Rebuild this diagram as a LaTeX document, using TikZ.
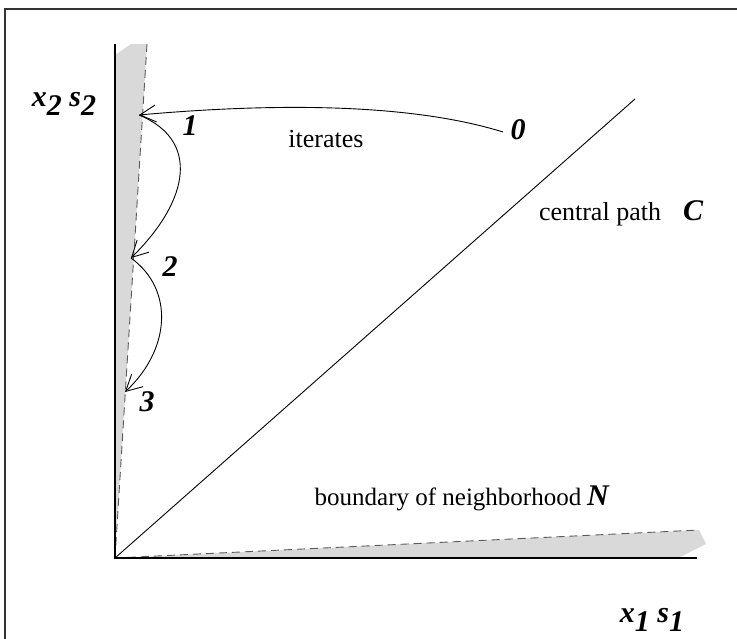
\documentclass[tikz,border=0pt]{standalone}
\usepackage{fontspec}
\setmainfont{Liberation Serif}
\usetikzlibrary{arrows.meta}
\definecolor{shadegray}{RGB}{217,217,217}
\definecolor{dashc}{RGB}{90,90,90}
\begin{document}
\begin{tikzpicture}[x=1pt,y=-1pt,
  axis/.style={line width=1.1pt,black},
  bound/.style={dash pattern=on 8pt off 5pt,line width=0.9pt,dashc},
  iter/.style={line width=0.9pt,-{Straight Barb[length=16pt,width=17pt,line width=0.9pt]}},
  lbl/.style={font=\fontsize{30}{34}\selectfont\bfseries\itshape,inner sep=0pt,anchor=base},
  txt/.style={font=\fontsize{26}{30}\selectfont,inner sep=0pt,anchor=base}]
\useasboundingbox (0,0) rectangle (737,638);
\draw[line width=1.4pt,black!80] (5,640) -- (5,9) -- (740,9);
% shaded neighbourhood regions
\fill[shadegray] (115,55) -- (131,44) -- (147,44) -- (115,558) -- cycle;
\fill[shadegray] (115,558) -- (699,530) -- (706,544) -- (678,558) -- cycle;
% named points
\coordinate (O) at (115,558);
\coordinate (ytop) at (115,44);
\coordinate (xend) at (697,558);
\coordinate (ctop) at (635,99);
\coordinate (btop) at (147,44);
\coordinate (bright) at (699,530);
\coordinate (p0) at (503,132);
\coordinate (p1) at (139,115);
\coordinate (p2) at (131,258);
\coordinate (p3) at (125,392);
% boundaries
\draw[bound] (btop) -- (O);
\draw[bound] (O) -- (bright);
% axes
\draw[axis] (ytop) -- (O) -- (xend);
% central path
\draw[line width=0.9pt] (O) -- (ctop);
% iterates
\draw[iter] (p0) .. controls (400,100) and (250,105) .. (p1);
\draw[iter] (p1) .. controls (200,140) and (190,200) .. (p2);
\draw[iter] (p2) .. controls (175,290) and (170,350) .. (p3);
% labels
\node[lbl] (l0) at (518,139) {0};
\node[lbl] (l1) at (190,135) {1};
\node[lbl] (l2) at (170,276) {2};
\node[lbl] (l3) at (147,411) {3};
\node[txt] (it) at (326,147) {iterates};
\node[txt] (cp) at (600,220) {central path};
\node[lbl] (C) at (693,220) {C};
\node[txt,font=\fontsize{25}{29}\selectfont] (bn) at (448,505) {boundary of neighborhood};
\node[lbl] (N) at (598,505) {N};
\node[lbl] (ylab) at (64,106) {x\raisebox{-0.3em}{2} s\raisebox{-0.3em}{2}};
\node[lbl] (xlab) at (652,622) {x\raisebox{-0.3em}{1} s\raisebox{-0.3em}{1}};
\end{tikzpicture}
\end{document}
